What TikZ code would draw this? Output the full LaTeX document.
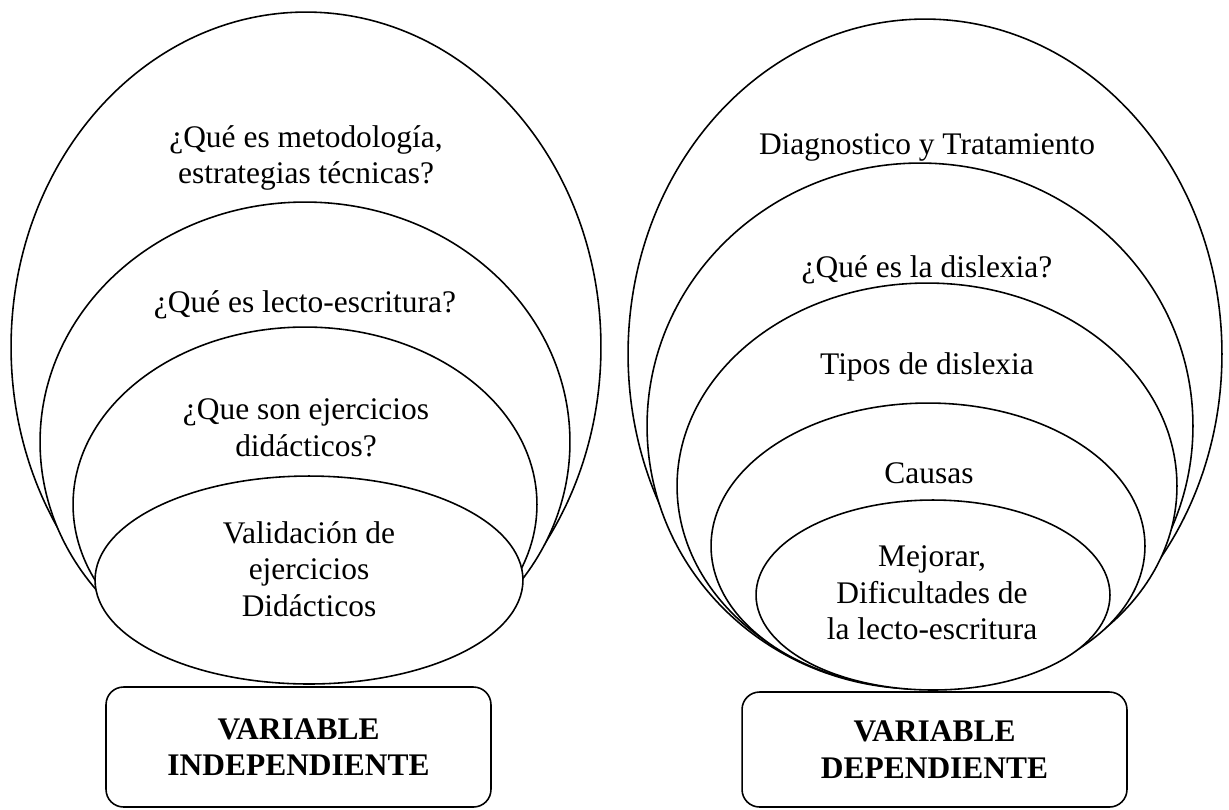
\documentclass[tikz,border=0pt]{standalone}
\usepackage{fontspec}
\setmainfont{Liberation Serif}
\usepackage{tikz}
\usetikzlibrary{shapes,positioning}
\newcommand{\ringfont}{\fontsize{17.9}{20.8}\selectfont}
\tikzset{
    % Nested ellipse style
    ring/.style={
        ellipse, draw=black, line width=0.9pt, fill=white,
        inner sep=0pt
    },
    % Text inside the ellipses
    ringtext/.style={
        align=center, font=\ringfont, inner sep=0pt
    },
    % Variable box style
    varbox/.style={
        rectangle, draw=black, line width=0.9pt,
        minimum width=7.7cm, rounded corners=0.35cm,
        align=center, font=\ringfont\bfseries
    }
}
\begin{document}
\begin{tikzpicture}[x=0.02cm, y=-0.02cm]
\useasboundingbox (0,0) rectangle (1229,809);

% Independent variable rings
\foreach \n/\x/\y/\w/\h in {1/306/347/11.8/13.4, 2/305/442/10.6/9.6,
                            3/305/504.5/9.28/7.1, 4/309/580/8.56/4.16} {
    \node[ring, minimum width=\w cm, minimum height=\h cm] (ind\n) at (\x,\y) {};
}
\node[ringtext] (indtxt1) at (306,158) {¿Qué es metodología,\\estrategias técnicas?};
\node[ringtext] (indtxt2) at (305,305) {¿Qué es lecto-escritura?};
\node[ringtext] (indtxt3) at (306,428) {¿Que son ejercicios\\didácticos?};
\node[ringtext] (indtxt4) at (309,569) {Validación de\\ejercicios\\Didácticos};

% Dependent variable rings
\foreach \n/\x/\y/\w/\h in {1/925/354/11.88/13.4, 2/920/426/10.92/10.52,
                            3/927/486/10.0/8.12, 4/928/546/8.68/5.72,
                            5/933/595/7.08/3.8} {
    \node[ring, minimum width=\w cm, minimum height=\h cm] (dep\n) at (\x,\y) {};
}
\node[ringtext] (deptxt1) at (927,147) {Diagnostico y Tratamiento};
\node[ringtext] (deptxt2) at (927,270) {¿Qué es la dislexia?};
\node[ringtext] (deptxt3) at (927,367) {Tipos de dislexia};
\node[ringtext] (deptxt4) at (929,473) {Causas};
\node[ringtext] (deptxt5) at (932,593) {Mejorar,\\Dificultades de\\la lecto-escritura};

% Variable boxes
\node[varbox, minimum height=2.4cm] (indbox) at (298.5,747) {VARIABLE\\INDEPENDIENTE};
\node[varbox, minimum height=2.3cm] (depbox) at (934.5,749.5) {VARIABLE\\DEPENDIENTE};

\end{tikzpicture}
\end{document}
